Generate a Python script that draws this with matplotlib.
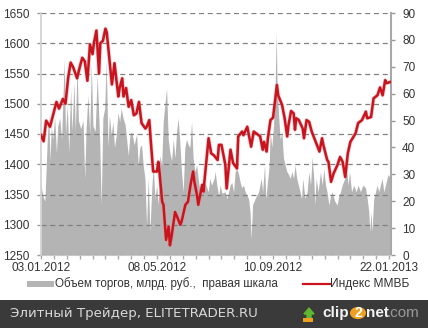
import matplotlib
matplotlib.use("Agg")
import matplotlib.pyplot as plt
from matplotlib.patches import Rectangle, Circle, FancyArrow
from matplotlib.lines import Line2D

# ---- data (trading-day index from 03.01.2012) ----
idx_days = [0, 2, 4, 7, 12, 14, 17, 19, 21, 23, 25, 28, 30, 32, 34, 36, 38, 40, 41, 43,
            45, 46, 48, 50, 51, 53, 55, 57, 60, 61, 63, 64, 66, 68, 70, 72, 74, 76, 78, 81,
            82, 84, 85, 87, 90, 91, 92, 94, 95, 96, 97, 99, 100, 101, 104, 106, 108, 109, 112, 114,
            116, 118, 119, 121, 122, 125, 126, 128, 130, 132, 134, 137, 138, 140, 143, 144, 147, 149, 152, 153,
            156, 157, 160, 161, 163, 165, 167, 170, 172, 173, 175, 176, 178, 180, 183, 184, 187, 189, 191, 192,
            194, 196, 197, 198, 200, 203, 204, 206, 208, 210, 212, 214, 216, 218, 219, 222, 223, 225, 227, 230,
            232, 234, 236, 238, 240, 244, 246, 249, 252, 253, 256, 258, 261, 263, 265, 267, 268, 271]
idx_vals = [1448, 1438, 1472, 1462, 1503, 1492, 1508, 1500, 1542, 1568, 1560, 1542, 1560, 1576, 1570, 1538, 1598, 1582, 1600, 1621,
            1550, 1600, 1604, 1624, 1618, 1575, 1532, 1567, 1512, 1526, 1542, 1512, 1526, 1495, 1506, 1481, 1484, 1503, 1468, 1459,
            1462, 1473, 1443, 1388, 1388, 1404, 1385, 1338, 1333, 1305, 1275, 1297, 1266, 1277, 1321, 1311, 1300, 1305, 1333, 1338,
            1366, 1388, 1371, 1349, 1333, 1366, 1355, 1399, 1443, 1418, 1415, 1407, 1432, 1432, 1399, 1360, 1424, 1402, 1393, 1446,
            1454, 1448, 1462, 1451, 1429, 1454, 1451, 1446, 1424, 1437, 1421, 1443, 1473, 1477, 1531, 1514, 1498, 1476, 1446, 1465,
            1488, 1484, 1457, 1476, 1473, 1459, 1443, 1473, 1470, 1454, 1443, 1432, 1421, 1443, 1432, 1407, 1404, 1371, 1385, 1399,
            1412, 1404, 1379, 1418, 1437, 1451, 1468, 1473, 1487, 1476, 1478, 1509, 1514, 1527, 1514, 1539, 1534, 1536]

vol_days = [0, 1.5, 3, 5, 6, 7, 8, 9, 10.6, 12, 13, 14.5, 16, 18, 19, 20.4, 21.5, 23, 24, 25.6,
            26.6, 28, 29, 30.8, 32.6, 33.9, 35, 36.4, 37.8, 39, 40.3, 42, 43.6, 45.5, 46.7, 48, 49.4, 50.6, 52, 53,
            54.5, 55.8, 57, 58.4, 59.7, 61, 62.2, 63.6, 65.3, 67.7, 69, 70.3, 72.3, 74.2, 75.4, 76.7, 78, 79.3, 80.6, 81.9,
            83.2, 84.5, 85.8, 87, 88.4, 89.7, 90.9, 92.2, 93.6, 94.8, 96.1, 97.4, 98.7, 100, 101.3, 102.6, 103.9, 105.2, 106.4, 107.8,
            109, 110.3, 111.6, 112.9, 114.2, 115.5, 116.8, 118, 119.4, 120.7, 121.9, 123.3, 124.6, 125.8, 127.1, 128.4, 129.7, 131, 132.3, 134.3,
            135.1, 136.4, 137.8, 139, 140.3, 142.9, 144.2, 145.5, 146.7, 148, 149.4, 150.6, 151.9, 153.3, 154.5, 155.8, 157.1, 158.4, 161, 162.2,
            163, 164.1, 166.1, 168.8, 170.8, 171.9, 173.4, 174.4, 176, 177, 177.8, 179, 180.4, 181.6, 182.4, 183.2, 184.3, 185.5, 186.8, 188.1,
            189.4, 190.7, 192, 193.3, 194.6, 195.9, 197.1, 198.4, 200.2, 202.1, 203.1, 204.7, 206.4, 207.8, 209.1, 210.3, 211.6, 212.4, 213.4, 215,
            216.8, 218.1, 219.4, 220.7, 221.9, 223.3, 224.6, 225.8, 227.9, 229.7, 231, 232.3, 233.6, 235.7, 236.7, 238.2, 239.3, 240.9, 242.6, 244.4,
            246, 247.8, 249.6, 251.7, 253, 254.3, 255, 256, 256.8, 258.1, 259.5, 260.7, 262, 263.3, 264.6, 265.9, 267.7, 269.2, 271]
vol_vals = [26, 22, 20, 44.6, 52, 35, 48, 43, 51, 38, 48, 51, 43, 73, 45, 56, 38, 62, 46, 64,
            46, 71, 50, 47, 50, 28.5, 47, 59.5, 45, 71, 48, 46, 67, 43, 18.6, 51, 54.6, 72, 40, 52,
            44.6, 49.6, 40, 44.6, 53, 49.6, 54.6, 51, 48.4, 37, 44.6, 46, 41, 45, 33.5, 40, 41, 33.5, 28.5, 11,
            28.5, 8.7, 23.5, 33.5, 21, 26, 18.6, 37, 33.5, 49.6, 56, 62, 43, 38, 35, 43, 36, 46, 51, 41,
            31, 23.5, 40, 43, 41, 40, 49.6, 36, 31, 33.5, 28.5, 23.5, 26, 23.5, 27, 25.4, 23.5, 28.5, 26, 28.5,
            31, 26, 22, 26, 23, 23.5, 21, 23.5, 26, 27, 23.5, 31, 32, 30, 27, 25, 26, 23.5, 21, 16,
            6, 18.6, 21, 23.5, 28.5, 23.5, 33.5, 21, 28.5, 33.5, 46, 40, 48, 62, 83, 62, 52, 43, 46, 36,
            33.5, 31, 30, 28.5, 31, 28.5, 33.5, 28.5, 25, 21, 28.5, 21, 23.5, 31, 26, 36.5, 28.5, 18.6, 28.5, 23.5,
            31, 26, 32, 26, 23.5, 18.6, 22, 23.5, 20, 18.6, 22, 23.5, 26, 28.5, 33.5, 26, 31, 23.5, 26, 23.5,
            26, 23.5, 26, 25, 21, 16, 8.7, 16, 8.7, 21, 23.5, 26, 23.5, 26, 28.5, 23.5, 27, 30, 28.5]

left_ticks = [1250, 1300, 1350, 1400, 1450, 1500, 1550, 1600, 1650]
right_ticks = [0, 10, 20, 30, 40, 50, 60, 70, 80, 90]
date_pos = [0, 90, 180, 270]
date_labels = ["03.01.2012", "08.05.2012", "10.09.2012", "22.01.2013"]

legend_vol = "Объем торгов, млрд. руб.,  правая шкала"
legend_idx = "Индекс ММВБ"
footer = "Элитный Трейдер, ELITETRADER.RU"

RED = "#c8141e"
GRAY = "#b4b4b4"
TXT = "#333333"

plt.rcParams['font.family'] = ['Liberation Sans', 'DejaVu Sans']

W, H = 428, 328
fig = plt.figure(figsize=(W / 100, H / 100), dpi=100)
fig.patch.set_facecolor("white")

x0, x1, yb, yt = 41, 391, 255, 13
ax_v = fig.add_axes([x0 / W, 1 - yb / H, (x1 - x0) / W, (yb - yt) / H])
ax_i = ax_v.twinx()

ax_v.fill_between(vol_days, 0, vol_vals, color=GRAY, lw=0, zorder=1)
ax_v.set_ylim(0, 90)
ax_v.set_xlim(0, 271.5)
ax_v.yaxis.tick_right()
ax_v.set_yticks(right_ticks)
ax_v.tick_params(axis='y', colors="#999999", labelcolor=TXT, labelsize=8.5, length=3, width=1, pad=5)
ax_v.set_xticks(range(0, 272, 10), minor=True)
ax_v.set_xticks(date_pos)
ax_v.set_xticklabels(date_labels)
ax_v.tick_params(axis='x', which='both', colors="#aaaaaa", labelcolor=TXT, labelsize=8.5, length=3, width=1, pad=2)
for s in ["top", "left"]:
    ax_v.spines[s].set_visible(False)
ax_v.spines["right"].set_color("#a8a8a8")
ax_v.spines["right"].set_linewidth(1.5)
ax_v.spines["bottom"].set_color("#c8c8c8")

ax_i.patch.set_visible(False)
ax_i.set_ylim(1250, 1650)
ax_i.yaxis.tick_left()
ax_i.set_yticks(left_ticks)
ax_i.tick_params(axis='y', colors="#999999", labelcolor=TXT, labelsize=8.5, length=3, width=1, pad=5)
ax_i.grid(axis='y', color="#808080", linestyle=(0, (4, 3)), linewidth=0.9)
ax_i.plot(idx_days, idx_vals, color="#e88a8e", lw=2.8, alpha=0.45, zorder=3, solid_joinstyle='round')
ax_i.plot(idx_days, idx_vals, color=RED, lw=1.8, zorder=4, solid_joinstyle='round')
for s in ["top", "right", "bottom"]:
    ax_i.spines[s].set_visible(False)
ax_i.spines["left"].set_color("#d0d0d0")
ax_i.spines["left"].set_linewidth(1.2)

# legend (built manually at figure level)
def fx(px):
    return px / W

def fy(py):
    return 1 - py / H

fig.patches.append(Rectangle((fx(27), fy(287)), 27 / W, 6 / H, transform=fig.transFigure,
                             facecolor=GRAY, edgecolor="none"))
fig.text(fx(55), fy(284), legend_vol, fontsize=8.4, color=TXT, va="center", ha="left")
fig.lines.append(Line2D([fx(303), fx(330)], [fy(284), fy(284)], transform=fig.transFigure,
                        color=RED, lw=1.6))
fig.text(fx(330), fy(284), legend_idx, fontsize=8.6, color=TXT, va="center", ha="left")

# footer bar
fig.patches.append(Rectangle((0, 0), 1, 28 / H, transform=fig.transFigure,
                             facecolor="#3a3a3a", edgecolor="none", zorder=0))
fig.text(fx(10), fy(314), footer, fontsize=9.6, color="#d8d8d8", va="center", ha="left",
         family=['DejaVu Sans'])
# clip2net logo
fig.patches.append(FancyArrow(fx(309), fy(318), 0, 10 / H, width=4 / W, head_width=10 / W,
                              head_length=6 / H, transform=fig.transFigure,
                              color="#5fb82e", length_includes_head=True))
fig.patches.append(Rectangle((fx(303), fy(322)), 10 / W, 4 / H, transform=fig.transFigure,
                             facecolor="#f0a020", edgecolor="none"))
fig.text(fx(322), fy(313), "clip", fontsize=11, fontweight="bold", color="#f2f2f2",
         va="center", ha="left", family=['Liberation Sans'])
fig.patches.append(Circle((fx(358), fy(313)), 8 / W, transform=fig.transFigure,
                          facecolor="#f0a020", edgecolor="none"))
fig.text(fx(358), fy(313), "2", fontsize=10, fontweight="bold", color="white",
         va="center", ha="center", family=['Liberation Sans'])
fig.text(fx(366), fy(313), "net", fontsize=11, fontweight="bold", color="#f2f2f2",
         va="center", ha="left", family=['Liberation Sans'])
fig.text(fx(387), fy(313), ".com", fontsize=11, color="#9a9a9a",
         va="center", ha="left", family=['Liberation Sans'])

fig.savefig("out.png", dpi=100)
